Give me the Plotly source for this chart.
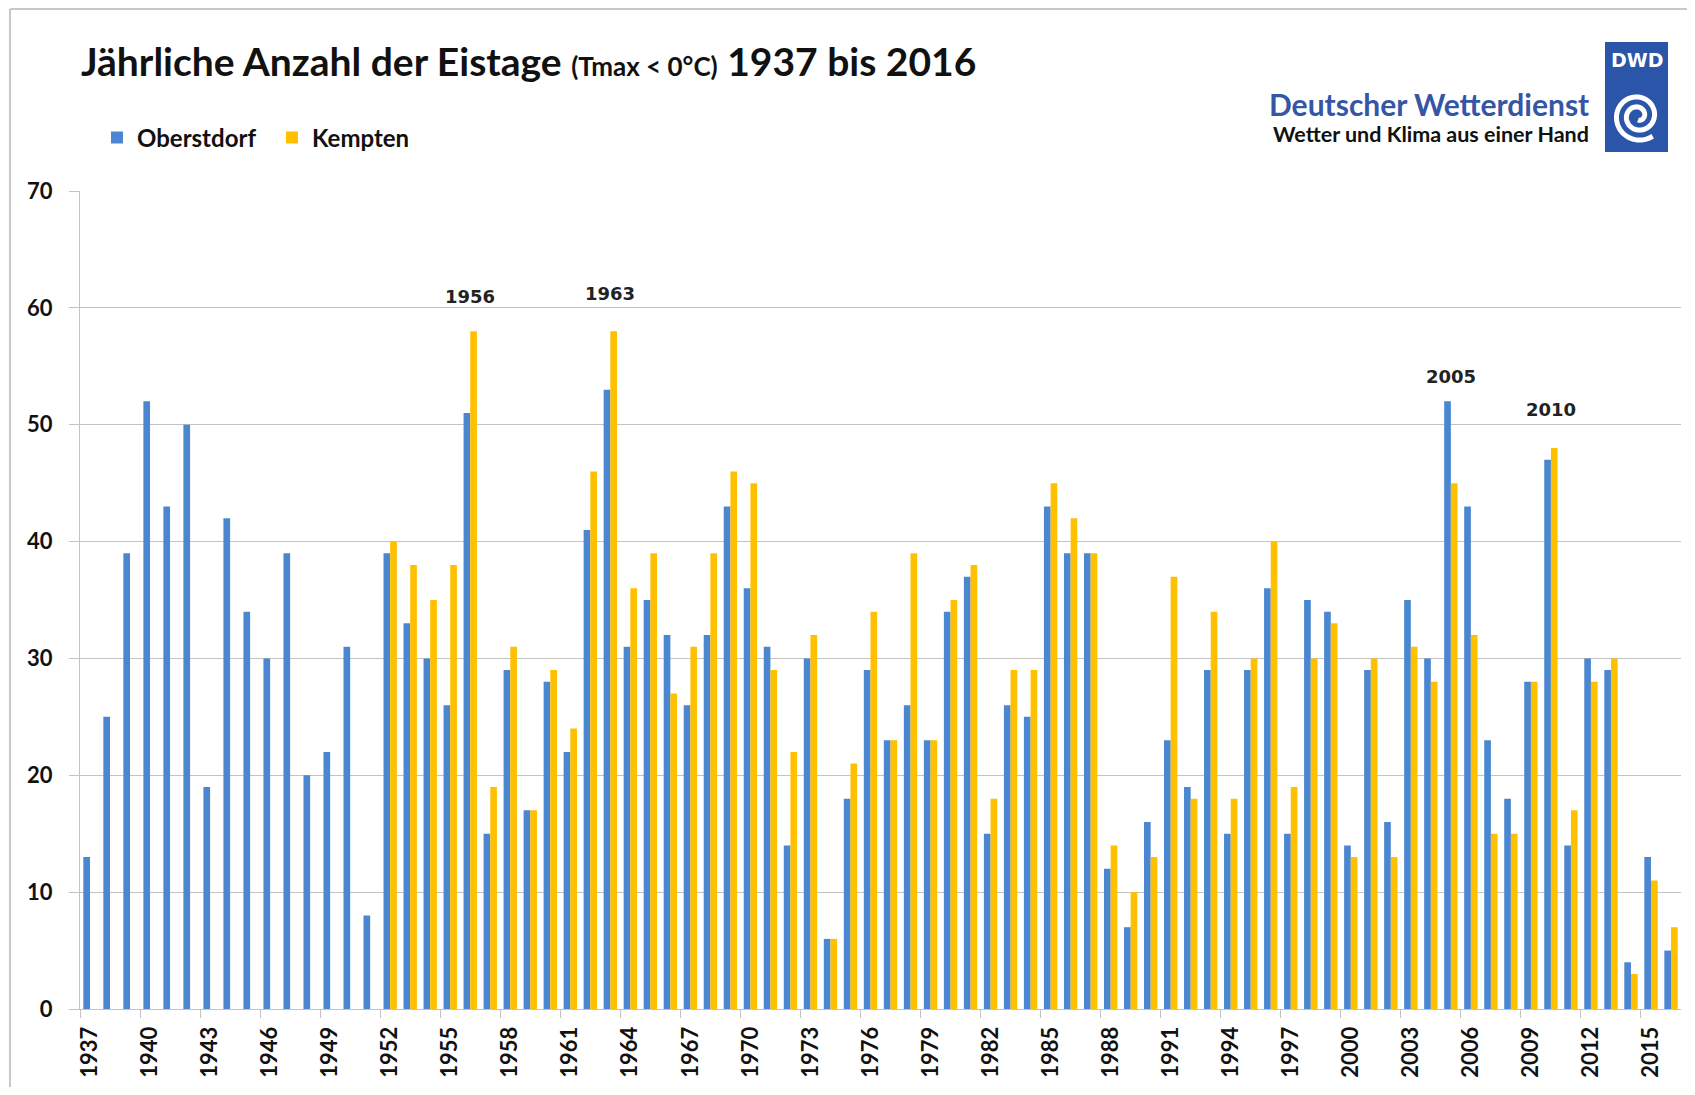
import math
import plotly.graph_objects as go

# ---------------- data ----------------
years = list(range(1937, 2017))
oberstdorf = [13, 25, 39, 52, 43, 50, 19, 42, 34, 30, 39, 20, 22, 31, 8,
              39, 33, 30, 26, 51,
              15, 29, 17, 28, 22, 41, 53, 31, 35, 32, 26, 32, 43, 36, 31, 14, 30, 6, 18,
              29, 23, 26, 23, 34, 37, 15, 26, 25, 43, 39, 39, 12, 7, 16, 23, 19, 29, 15, 29,
              36, 15, 35, 34, 14, 29, 16, 35, 30, 52, 43, 23, 18, 28, 47, 14, 30, 29, 4, 13, 5]
kempten = [None] * 15 + [
    40, 38, 35, 38, 58,
    19, 31, 17, 29, 24, 46, 58, 36, 39, 27, 31, 39, 46, 45, 29, 22, 32, 6, 21,
    34, 23, 39, 23, 35, 38, 18, 29, 29, 45, 42, 39, 14, 10, 13, 37, 18, 34, 18, 30,
    40, 19, 30, 33, 13, 30, 13, 31, 28, 45, 32, 15, 15, 28, 48, 17, 28, 30, 3, 11, 7]
tick_years = list(range(1937, 2017, 3))
tick_labels = [str(y) for y in tick_years]
highlight_years = [1956, 1963, 2005, 2010]
highlight_y = [61, 61.2, 54.1, 51.3]

BLUE = "#4A87D0"
YELLOW = "#FFC000"
GRID = "#C3C3C3"
FONT = "Lato"

OFF = 8  # page body margin
W, H = 1695 - 2 * OFF, 1095 - 2 * OFF
L = 80 - OFF
T = 191 - OFF
R = W - (1681 - OFF)
B = H - (1009 - OFF)
PW, PH = W - L - R, H - T - B


def px(x):
    """page x pixel -> paper coordinate"""
    return (x - OFF - L) / PW


def py(y):
    """page y pixel -> paper coordinate"""
    return (H - B - (y - OFF)) / PH


fig = go.Figure()
fig.add_trace(go.Bar(x=years, y=oberstdorf, name="Oberstdorf", marker_color=BLUE,
                     marker_line_width=0))
fig.add_trace(go.Bar(x=years, y=kempten, name="Kempten", marker_color=YELLOW,
                     marker_line_width=0))

annotations = []
for yr, yv in zip(highlight_years, highlight_y):
    annotations.append(dict(x=yr, y=yv, xref="x", yref="y", text="<b>%d</b>" % yr,
                            showarrow=False, yanchor="middle", xanchor="center",
                            font=dict(family="DejaVu Sans", size=18, color="#222222")))

# title
annotations.append(dict(
    x=px(79), y=py(61), xref="paper", yref="paper", xanchor="left", yanchor="middle",
    showarrow=False,
    text="<b>Jährliche Anzahl der Eistage <span style='font-size:26px'>(Tmax &lt; 0°C)</span> 1937 bis 2016</b>",
    font=dict(family=FONT, size=39, color="#111111", weight="bold")))
# DWD texts
annotations.append(dict(
    x=px(1591), y=py(104), xref="paper", yref="paper", xanchor="right", yanchor="middle",
    showarrow=False, text="<b>Deutscher Wetterdienst</b>",
    font=dict(family=FONT, size=30, color="#3556A6", weight="bold")))
annotations.append(dict(
    x=px(1591), y=py(134), xref="paper", yref="paper", xanchor="right", yanchor="middle",
    showarrow=False, text="<b>Wetter und Klima aus einer Hand</b>",
    font=dict(family=FONT, size=21.5, color="#111111", weight="bold")))
annotations.append(dict(
    x=px(1637), y=py(60), xref="paper", yref="paper", xanchor="center", yanchor="middle",
    showarrow=False, text="<b>DWD</b>",
    font=dict(family="DejaVu Sans", size=19, color="white")))

shapes = []
# outer frame (left and top edges)
shapes.append(dict(type="line", xref="paper", yref="paper",
                   x0=px(10), x1=px(10), y0=py(1200), y1=py(9),
                   line=dict(color="#C8C8C8", width=2), layer="below"))
shapes.append(dict(type="line", xref="paper", yref="paper",
                   x0=px(10), x1=px(1800), y0=py(9), y1=py(9),
                   line=dict(color="#C8C8C8", width=2), layer="below"))
# logo box
shapes.append(dict(type="rect", xref="paper", yref="paper",
                   x0=px(1605), x1=px(1668), y0=py(152), y1=py(42),
                   line=dict(width=0), fillcolor="#2A55A8"))
# spiral
cx, cy = 1638, 116
pts = []
n = 160
for i in range(n + 1):
    t = i / n
    ang = -math.pi / 2 + t * 2.1 * 2 * math.pi
    r = 4 + 21 * t
    pts.append((cx + r * math.cos(ang), cy - r * math.sin(ang)))
path = "M " + " L ".join("%.5f,%.5f" % (px(a), py(b)) for a, b in pts)
shapes.append(dict(type="path", xref="paper", yref="paper", path=path,
                   line=dict(color="white", width=5)))

fig.update_layout(
    width=W, height=H, autosize=False,
    margin=dict(l=L, r=R, t=T, b=B, autoexpand=False),
    paper_bgcolor="white", plot_bgcolor="white",
    barmode="group", bargap=0.333, bargroupgap=0,
    font=dict(family=FONT, color="#111111"),
    showlegend=True,
    legend=dict(orientation="h", x=px(97), y=py(138), xanchor="left", yanchor="middle",
                font=dict(family=FONT, size=24, color="#111111", weight="bold"),
                itemwidth=30, entrywidth=130, entrywidthmode="pixels",
                bgcolor="rgba(0,0,0,0)", tracegroupgap=0),
    annotations=annotations,
    shapes=shapes,
    xaxis=dict(
        range=[1936.5, 2016.5], tickmode="array", tickvals=tick_years, ticktext=tick_labels,
        tickangle=-90, tickfont=dict(family=FONT, size=22, color="#111111", weight="bold"),
        ticks="", showgrid=False, zeroline=False,
        showline=True, linecolor=GRID, linewidth=1,
        ticklabelstandoff=8,
        minor=dict(tickmode="linear", tick0=1936.5, dtick=3, ticks="outside", ticklen=8,
                   tickcolor=GRID, tickwidth=1, showgrid=False),
    ),
    yaxis=dict(
        range=[0, 70], tickmode="linear", tick0=0, dtick=10,
        tickfont=dict(family=FONT, size=22, color="#111111", weight="bold"),
        ticks="outside", ticklen=10, tickcolor=GRID,
        showgrid=True, gridcolor=GRID, gridwidth=1,
        zeroline=False, showline=True, linecolor=GRID, linewidth=1,
        ticklabelstandoff=12,
    ),
)

fig.write_html("out.html")
